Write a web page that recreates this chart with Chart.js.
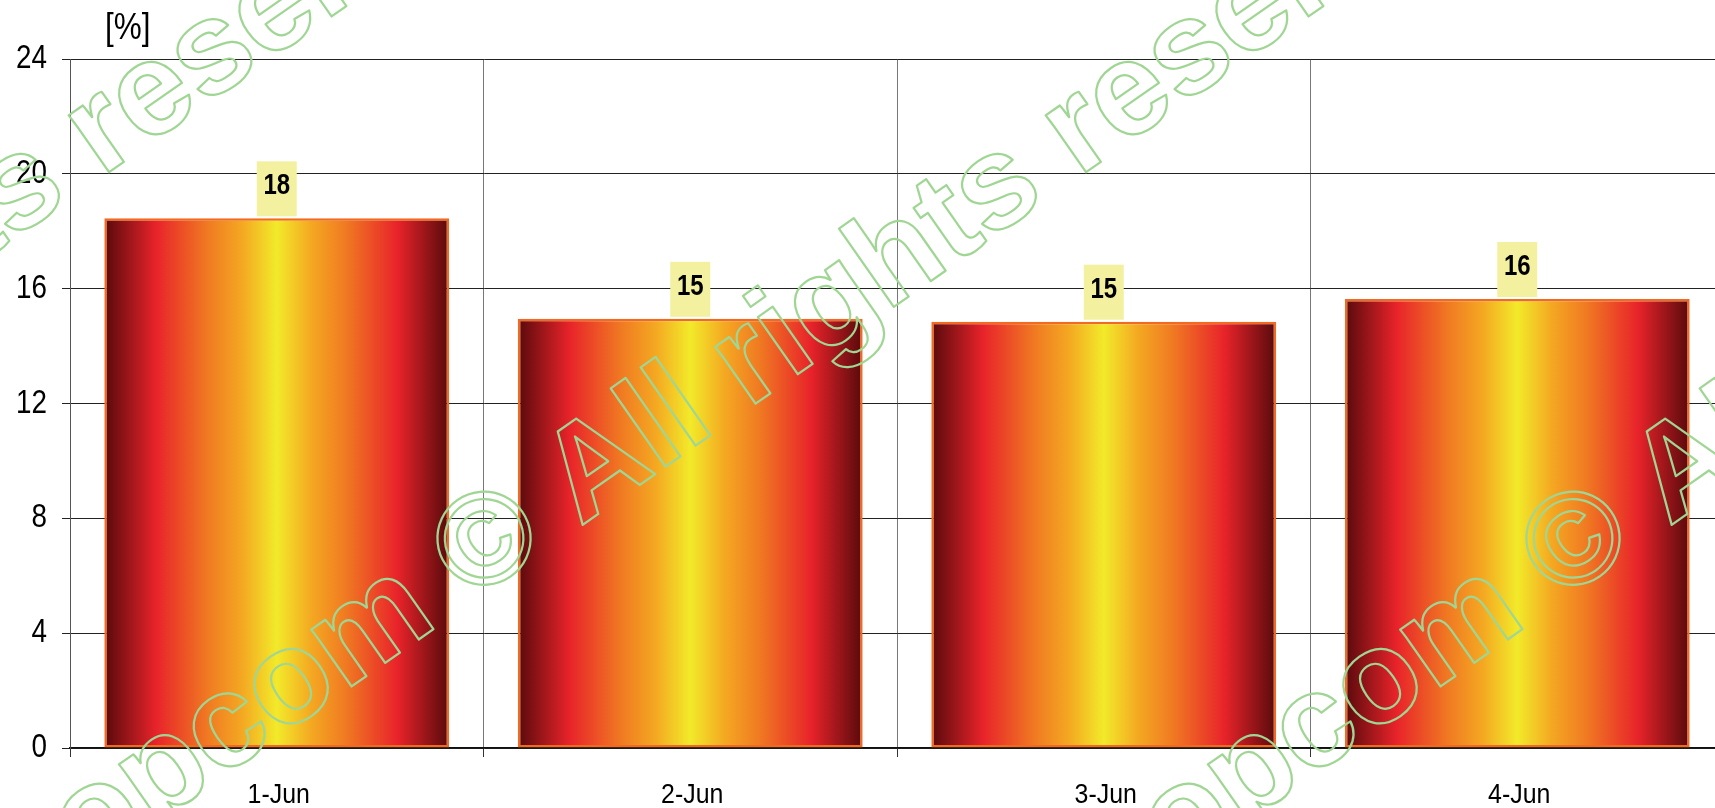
<!DOCTYPE html>
<html><head><meta charset="utf-8">
<script src="https://cdn.jsdelivr.net/npm/chart.js@4.4.1/dist/chart.umd.min.js"></script>
<style>html,body{margin:0;padding:0;overflow:hidden;background:#fff}canvas{display:block}</style>
</head><body><canvas id="c" width="1730" height="808"></canvas>
<script>
const categories = ['1-Jun', '2-Jun', '3-Jun', '4-Jun'];
const values = [18.45, 14.95, 14.85, 15.64];
const yMin = 0, yMax = 24, yStep = 4;
const unitLabel = '[%]';
const watermarkText = 'opcom \u00A9 All rights reserved';

const FAMILY = "'Liberation Sans', Arial, sans-serif";
const BAR_PCT = 0.834;

function barGradient(c) {
  const ch = c.chart, xs = ch.scales && ch.scales.x;
  if (!xs || c.dataIndex === undefined || !isFinite(xs.width)) return '#e8232a';
  const cx = xs.getPixelForValue(c.dataIndex);
  const w = (xs.width / categories.length) * BAR_PCT;
  const g = ch.ctx.createLinearGradient(cx - w / 2, 0, cx + w / 2, 0);
  g.addColorStop(0.00, '#580a0c');
  g.addColorStop(0.15, '#e8232a');
  g.addColorStop(0.30, '#f07a22');
  g.addColorStop(0.40, '#f4a822');
  g.addColorStop(0.50, '#f2ea2a');
  g.addColorStop(0.60, '#f4a822');
  g.addColorStop(0.70, '#f07a22');
  g.addColorStop(0.85, '#e8232a');
  g.addColorStop(1.00, '#580a0c');
  return g;
}

// draw text horizontally condensed (narrow face look)
function narrowText(ctx, text, x, y, font, sx, align) {
  ctx.save();
  ctx.font = font;
  ctx.textBaseline = 'alphabetic';
  ctx.textAlign = align;
  ctx.translate(x, y);
  ctx.scale(sx, 1);
  ctx.fillText(text, 0, 0);
  ctx.restore();
}

const tickLabelPlugin = {
  id: 'narrowTicks',
  afterDraw(chart) {
    const ctx = chart.ctx;
    const ys = chart.scales.y, xs = chart.scales.x;
    ctx.save();
    ctx.fillStyle = '#000';
    ys.ticks.forEach(t => {
      const py = ys.getPixelForValue(t.value);
      narrowText(ctx, String(t.label), ys.right - 23, py + 9, '33.5px ' + FAMILY, 0.83, 'right');
    });
    xs.ticks.forEach((t, i) => {
      const px = xs.getPixelForTick(i);
      narrowText(ctx, xs.getLabelForValue(t.value), px + 2, xs.top + 55, '28px ' + FAMILY, 0.89, 'center');
    });
    const a = chart.chartArea;
    narrowText(ctx, unitLabel, a.left + 35, a.top - 20, '37px ' + FAMILY, 0.85, 'left');
    ctx.restore();
  }
};

const labelPlugin = {
  id: 'valueLabels',
  afterDatasetsDraw(chart) {
    const ctx = chart.ctx;
    const meta = chart.getDatasetMeta(0);
    ctx.save();
    meta.data.forEach((el, i) => {
      const bw = 40, bh = 55;
      const top = el.y - 2 - bh;
      ctx.fillStyle = '#f3f1a0';
      ctx.fillRect(el.x - bw / 2, top, bw, bh);
      ctx.fillStyle = '#000';
      narrowText(ctx, String(Math.round(values[i])), el.x, top + 33, 'bold 30px ' + FAMILY, 0.8, 'center');
    });
    ctx.restore();
  }
};

const watermarkPlugin = {
  id: 'watermark',
  afterDraw(chart, args, opts) {
    const ctx = chart.ctx;
    ctx.save();
    const fs = opts.fontSize;
    ctx.font = "bold " + fs + "px " + FAMILY;
    ctx.strokeStyle = opts.color;
    ctx.lineWidth = opts.lineWidth;
    ctx.lineJoin = 'round';
    const off = ctx.measureText('opcom ').width + ctx.measureText('\u00A9').width / 2;
    opts.anchors.forEach(([x, y]) => {
      ctx.save();
      ctx.translate(x, y);
      ctx.rotate(-opts.angle * Math.PI / 180);
      ctx.textAlign = 'left';
      ctx.textBaseline = 'alphabetic';
      ctx.strokeText(watermarkText, -off, 0.357 * fs);
      ctx.restore();
    });
    ctx.restore();
  }
};

new Chart(document.getElementById('c'), {
  type: 'bar',
  data: {
    labels: categories,
    datasets: [{
      data: values,
      backgroundColor: barGradient,
      borderColor: '#f26a21',
      borderWidth: 2.5,
      borderSkipped: false,
      categoryPercentage: 1.0,
      barPercentage: BAR_PCT
    }]
  },
  options: {
    responsive: false,
    animation: false,
    devicePixelRatio: 1,
    layout: { padding: { top: 59, left: 0, right: 6, bottom: 0 } },
    plugins: {
      legend: { display: false },
      tooltip: { enabled: false },
      watermark: {
        fontSize: 132, color: '#a0d694', lineWidth: 2.2, angle: 35,
        anchors: [[-494, 537], [483, 537], [1572, 537]]
      }
    },
    scales: {
      x: {
        offset: true,
        grid: { offset: true, color: '#777', lineWidth: 1, tickLength: 9, tickColor: '#333', drawOnChartArea: true },
        border: { color: '#111', width: 1.5 },
        ticks: { display: false },
        afterFit(s) { s.height = 60; }
      },
      y: {
        min: yMin, max: yMax,
        grid: { color: '#222', lineWidth: 1, tickLength: 8, tickColor: '#222' },
        border: { color: '#555', width: 1 },
        ticks: { display: false, stepSize: yStep },
        afterFit(s) { s.width = 70; }
      }
    }
  },
  plugins: [labelPlugin, tickLabelPlugin, watermarkPlugin]
});
</script>
</body></html>
